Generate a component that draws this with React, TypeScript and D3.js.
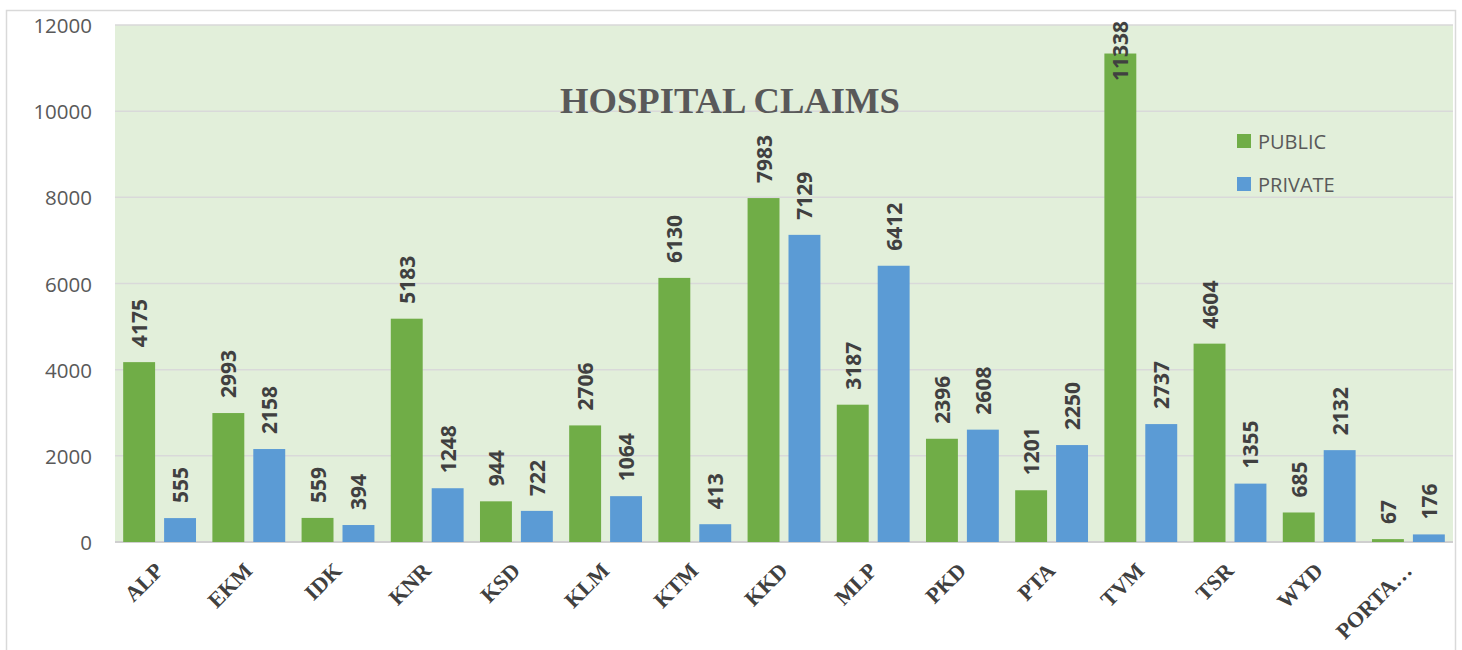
import * as d3 from "d3";

const districts = ["ALP", "EKM", "IDK", "KNR", "KSD", "KLM", "KTM", "KKD", "MLP", "PKD", "PTA", "TVM", "TSR", "WYD", "PORTA…"];
const publicClaims = [4175, 2993, 559, 5183, 944, 2706, 6130, 7983, 3187, 2396, 1201, 11338, 4604, 685, 67];
const privateClaims = [555, 2158, 394, 1248, 722, 1064, 413, 7129, 6412, 2608, 2250, 2737, 1355, 2132, 176];
const seriesNames = ["PUBLIC", "PRIVATE"];
const seriesColors = ["#70ad47", "#5b9bd5"];
const yTicks = [0, 2000, 4000, 6000, 8000, 10000, 12000];

export default function App() {
  const width = 1462;
  const height = 650;
  const left = 115;
  const right = 1453;
  const top = 25;
  const bottom = 542;

  const x = d3.scaleBand().domain(districts).range([left, right]);
  const xInner = d3
    .scaleBand()
    .domain(seriesNames)
    .range([0, x.bandwidth()])
    .paddingInner(0.22)
    .paddingOuter(0.2);
  const y = d3.scaleLinear().domain([0, 12000]).range([bottom, top]);

  const series = [publicClaims, privateClaims];
  const labelFont = "'Open Sans', 'Noto Sans', sans-serif";

  const bars = [];
  const labels = [];
  districts.forEach((d, i) => {
    series.forEach((vals, s) => {
      const v = vals[i];
      const bx = x(d) + xInner(seriesNames[s]);
      const bw = xInner.bandwidth();
      const by = y(v);
      bars.push(
        <rect key={`b-${i}-${s}`} x={bx} y={by} width={bw} height={bottom - by} fill={seriesColors[s]} />
      );
      const txt = String(v);
      const len = txt.length * 12.2;
      let start = by - 15;
      if (start - len < 20) start = 20 + len;
      labels.push(
        <text
          key={`l-${i}-${s}`}
          transform={`translate(${bx + bw / 2},${start}) rotate(-90)`}
          textAnchor="start"
          dominantBaseline="central"
          fontFamily={labelFont}
          fontWeight="bold"
          fontSize={21}
          fill="#404040"
        >
          {txt}
        </text>
      );
    });
  });

  return (
    <svg
      width={width}
      height={height}
      style={{ position: "absolute", left: 0, top: 0, background: "#fff" }}
    >
      <rect x={6.5} y={10.5} width={1449} height={660} fill="#fff" stroke="#d9d9d9" strokeWidth={1.5} />
      <rect x={left} y={top} width={right - left} height={bottom - top} fill="#e2efda" />
      {yTicks.map((t) => (
        <g key={t}>
          <line x1={left} x2={right} y1={y(t)} y2={y(t)} stroke={t === 0 ? "#cfcfcf" : "#d9d9d9"} strokeWidth={t === 0 ? 2 : 1.5} />
          <text
            x={92}
            y={y(t)}
            textAnchor="end"
            dominantBaseline="central"
            fontFamily={labelFont}
            fontSize={20.5}
            fill="#595959"
          >
            {t}
          </text>
        </g>
      ))}
      {bars}
      {labels}
      <text
        x={730}
        y={113}
        textAnchor="middle"
        fontFamily="'Liberation Serif', 'Times New Roman', serif"
        fontWeight="bold"
        fontSize={36.6}
        fill="#595959"
      >
        HOSPITAL CLAIMS
      </text>
      {seriesNames.map((n, s) => (
        <g key={n} transform={`translate(1237,${134 + s * 43})`}>
          <rect width={14} height={14} fill={seriesColors[s]} />
          <text
            x={21}
            y={7}
            dominantBaseline="central"
            fontFamily={labelFont}
            fontSize={20}
            fill="#595959"
          >
            {n}
          </text>
        </g>
      ))}
      {districts.map((d) => (
        <text
          key={d}
          transform={`translate(${x(d) + x.bandwidth() / 2 + 5},572) rotate(-45)`}
          textAnchor="end"
          fontFamily="'Liberation Serif', 'Times New Roman', serif"
          fontWeight="bold"
          fontSize={22}
          fill="#404040"
        >
          {d}
        </text>
      ))}
    </svg>
  );
}
